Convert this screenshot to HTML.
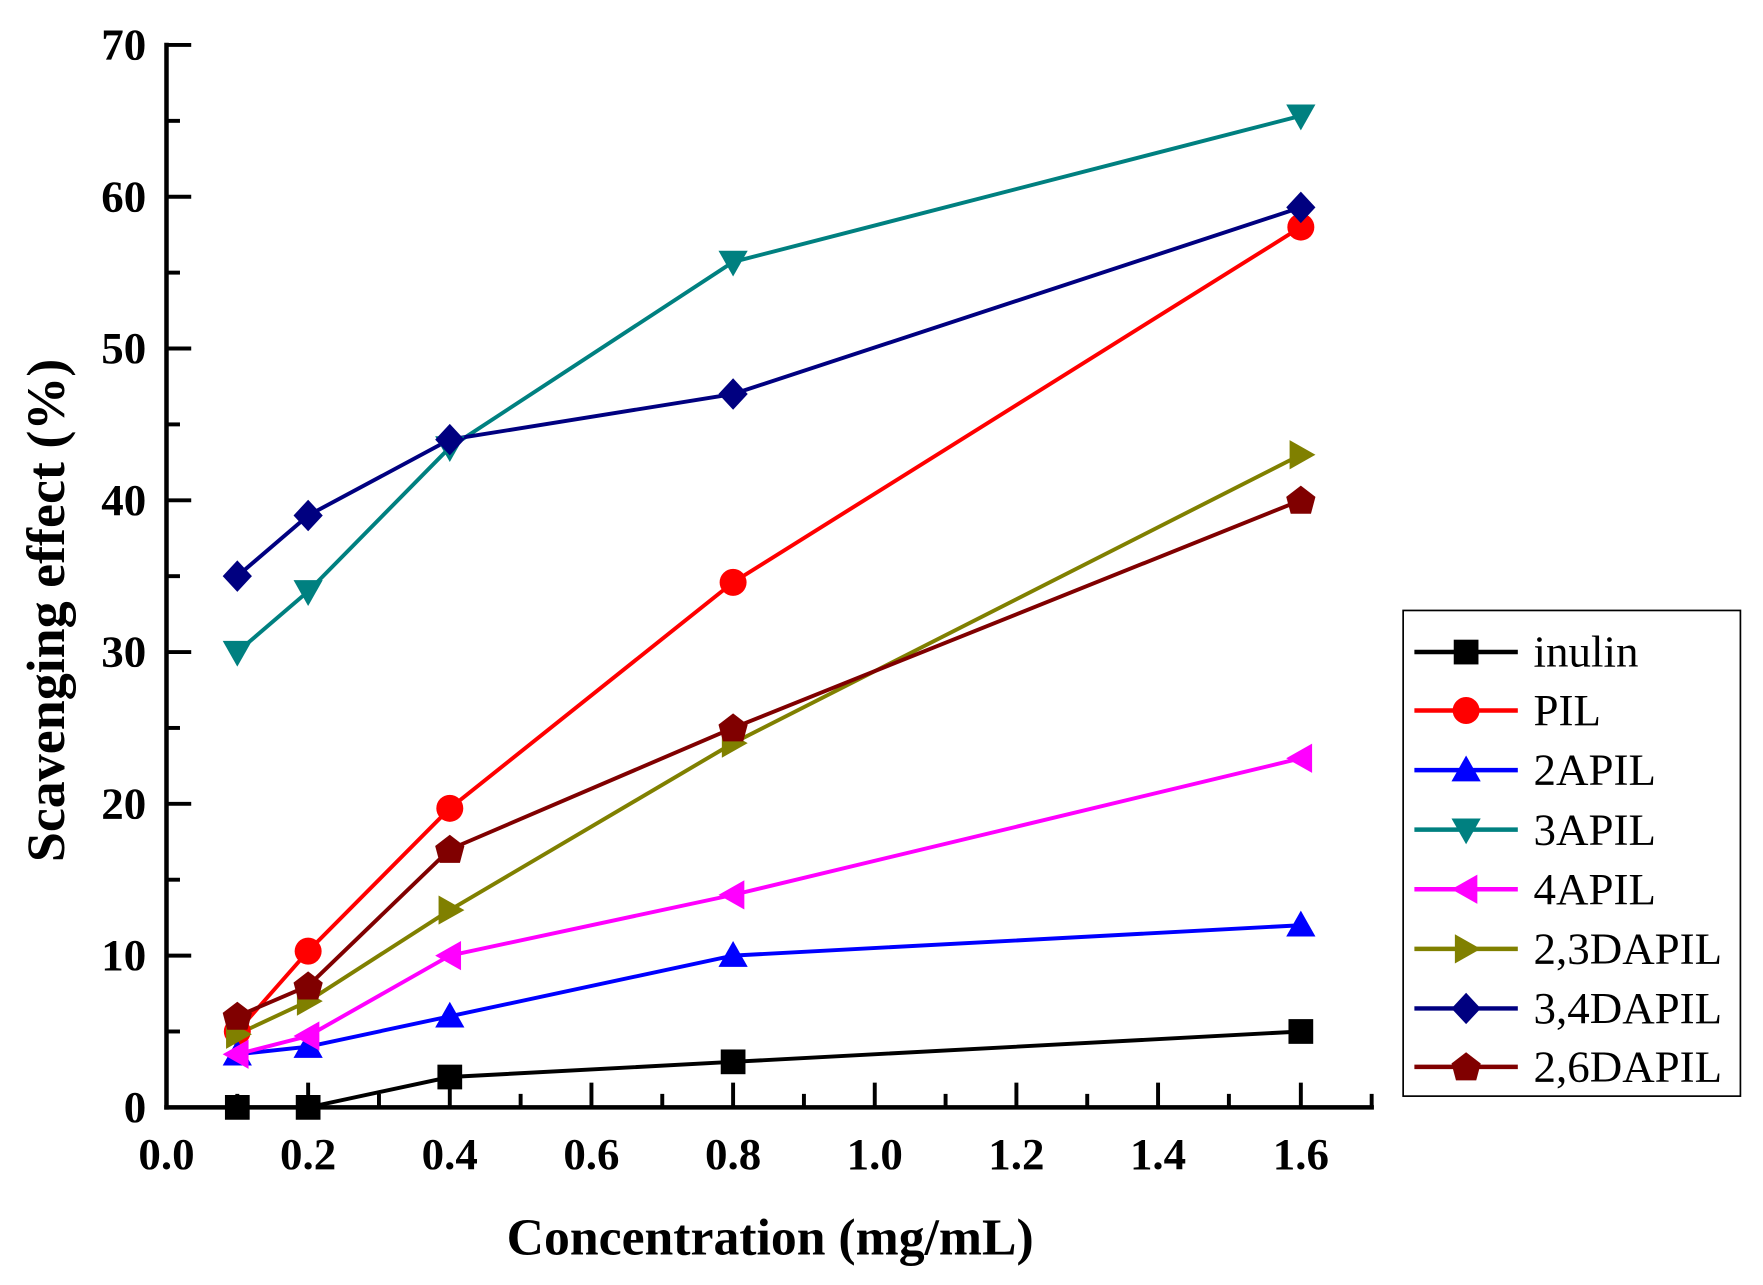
<!DOCTYPE html>
<html><head><style>html,body{margin:0;padding:0;background:#fff}svg{display:block}</style></head>
<body>
<svg width="1763" height="1285" viewBox="0 0 1568 1143" xmlns="http://www.w3.org/2000/svg" font-family="Liberation Serif, serif">
<defs>
<g id="sq"><rect x="-11" y="-11" width="22" height="22"/></g>
<g id="ci"><circle r="12"/></g>
<g id="tu"><polygon points="0,-13 13,10 -13,10"/></g>
<g id="td"><polygon points="0,13 13,-10 -13,-10"/></g>
<g id="tl"><polygon points="-13,0 10,-13 10,13"/></g>
<g id="tr"><polygon points="13,0 -10,-13 -10,13"/></g>
<g id="di"><polygon points="0,-14 13,0 0,14 -13,0"/></g>
<g id="pe"><polygon points="0,-13 13,-3 9,12 -9,12 -13,-3"/></g>
</defs>
<g stroke="#000" stroke-width="4" fill="none" stroke-linecap="square">
<line x1="148" y1="40" x2="148" y2="985"/>
<line x1="148" y1="985" x2="1220" y2="985"/>
</g>
<g stroke="#000" stroke-width="3.5">
<line x1="148" y1="40" x2="170" y2="40"/><line x1="148" y1="107.5" x2="160" y2="107.5"/>
<line x1="148" y1="175" x2="170" y2="175"/><line x1="148" y1="242.5" x2="160" y2="242.5"/>
<line x1="148" y1="310" x2="170" y2="310"/><line x1="148" y1="377.5" x2="160" y2="377.5"/>
<line x1="148" y1="445" x2="170" y2="445"/><line x1="148" y1="512.5" x2="160" y2="512.5"/>
<line x1="148" y1="580" x2="170" y2="580"/><line x1="148" y1="647.5" x2="160" y2="647.5"/>
<line x1="148" y1="715" x2="170" y2="715"/><line x1="148" y1="782.5" x2="160" y2="782.5"/>
<line x1="148" y1="850" x2="170" y2="850"/><line x1="148" y1="917.5" x2="160" y2="917.5"/>
<line x1="211" y1="985" x2="211" y2="973"/><line x1="274" y1="985" x2="274" y2="963"/>
<line x1="337" y1="985" x2="337" y2="973"/><line x1="400" y1="985" x2="400" y2="963"/>
<line x1="463" y1="985" x2="463" y2="973"/><line x1="526" y1="985" x2="526" y2="963"/>
<line x1="589" y1="985" x2="589" y2="973"/><line x1="652" y1="985" x2="652" y2="963"/>
<line x1="715" y1="985" x2="715" y2="973"/><line x1="778" y1="985" x2="778" y2="963"/>
<line x1="841" y1="985" x2="841" y2="973"/><line x1="904" y1="985" x2="904" y2="963"/>
<line x1="967" y1="985" x2="967" y2="973"/><line x1="1030" y1="985" x2="1030" y2="963"/>
<line x1="1093" y1="985" x2="1093" y2="973"/><line x1="1157" y1="985" x2="1157" y2="963"/>
<line x1="1220" y1="985" x2="1220" y2="973"/>
</g>
<g font-size="40" font-weight="bold" text-anchor="end">
<text x="130" y="53">70</text><text x="130" y="188">60</text><text x="130" y="323">50</text>
<text x="130" y="458">40</text><text x="130" y="593">30</text><text x="130" y="728">20</text>
<text x="130" y="863">10</text><text x="130" y="998">0</text>
</g>
<g font-size="40" font-weight="bold" text-anchor="middle">
<text x="148" y="1040">0.0</text><text x="274" y="1040">0.2</text><text x="400" y="1040">0.4</text>
<text x="526" y="1040">0.6</text><text x="652" y="1040">0.8</text><text x="778" y="1040">1.0</text>
<text x="904" y="1040">1.2</text><text x="1030" y="1040">1.4</text><text x="1157" y="1040">1.6</text>
</g>
<text x="685" y="1116" font-size="46" font-weight="bold" text-anchor="middle">Concentration (mg/mL)</text>
<text transform="translate(57,543) rotate(-90)" font-size="48" font-weight="bold" text-anchor="middle">Scavenging effect (%)</text>
<g fill="none" stroke-width="3.5">
<polyline stroke="#000" points="211,985 274,985 400,958 652,944.5 1157,917.5"/>
<polyline stroke="#f00" points="211,917.5 274,846 400,719 652,518 1157,202"/>
<polyline stroke="#00f" points="211,937.75 274,931 400,904 652,850 1157,823"/>
<polyline stroke="#008080" points="211,580 274,526 400,398 652,233 1157,103"/>
<polyline stroke="#f0f" points="211,937.75 274,921.5 400,850 652,796 1157,674.5"/>
<polyline stroke="#808000" points="211,920 274,890.5 400,809.5 652,661 1157,404.5"/>
<polyline stroke="#000080" points="211,512.5 274,458.5 400,391 652,350.5 1157,184.5"/>
<polyline stroke="#800000" points="211,904 274,877 400,755.5 652,647.5 1157,445"/>
</g>
<g fill="#000"><use href="#sq" x="211" y="985"/><use href="#sq" x="274" y="985"/><use href="#sq" x="400" y="958"/><use href="#sq" x="652" y="944.5"/><use href="#sq" x="1157" y="917.5"/></g>
<g fill="#f00"><use href="#ci" x="211" y="917.5"/><use href="#ci" x="274" y="846"/><use href="#ci" x="400" y="719"/><use href="#ci" x="652" y="518"/><use href="#ci" x="1157" y="202"/></g>
<g fill="#00f"><use href="#tu" x="211" y="937.75"/><use href="#tu" x="274" y="931"/><use href="#tu" x="400" y="904"/><use href="#tu" x="652" y="850"/><use href="#tu" x="1157" y="823"/></g>
<g fill="#008080"><use href="#td" x="211" y="580"/><use href="#td" x="274" y="526"/><use href="#td" x="400" y="398"/><use href="#td" x="652" y="233"/><use href="#td" x="1157" y="103"/></g>
<g fill="#f0f"><use href="#tl" x="211" y="937.75"/><use href="#tl" x="274" y="921.5"/><use href="#tl" x="400" y="850"/><use href="#tl" x="652" y="796"/><use href="#tl" x="1157" y="674.5"/></g>
<g fill="#808000"><use href="#tr" x="211" y="920"/><use href="#tr" x="274" y="890.5"/><use href="#tr" x="400" y="809.5"/><use href="#tr" x="652" y="661"/><use href="#tr" x="1157" y="404.5"/></g>
<g fill="#000080"><use href="#di" x="211" y="512.5"/><use href="#di" x="274" y="458.5"/><use href="#di" x="400" y="391"/><use href="#di" x="652" y="350.5"/><use href="#di" x="1157" y="184.5"/></g>
<g fill="#800000"><use href="#pe" x="211" y="904"/><use href="#pe" x="274" y="877"/><use href="#pe" x="400" y="755.5"/><use href="#pe" x="652" y="647.5"/><use href="#pe" x="1157" y="445"/></g>
<rect x="1248" y="543" width="300" height="432" fill="#fff" stroke="#000" stroke-width="1.5"/>
<g stroke-width="4">
<line x1="1258" x2="1350" y1="580" y2="580" stroke="#000"/>
<line x1="1258" x2="1350" y1="632" y2="632" stroke="#f00"/>
<line x1="1258" x2="1350" y1="685" y2="685" stroke="#00f"/>
<line x1="1258" x2="1350" y1="738" y2="738" stroke="#008080"/>
<line x1="1258" x2="1350" y1="791" y2="791" stroke="#f0f"/>
<line x1="1258" x2="1350" y1="844" y2="844" stroke="#808000"/>
<line x1="1258" x2="1350" y1="897" y2="897" stroke="#000080"/>
<line x1="1258" x2="1350" y1="949" y2="949" stroke="#800000"/>
</g>
<use href="#sq" x="1304" y="580" fill="#000"/>
<use href="#ci" x="1304" y="632" fill="#f00"/>
<use href="#tu" x="1304" y="685" fill="#00f"/>
<use href="#td" x="1304" y="738" fill="#008080"/>
<use href="#tl" x="1304" y="791" fill="#f0f"/>
<use href="#tr" x="1304" y="844" fill="#808000"/>
<use href="#di" x="1304" y="897" fill="#000080"/>
<use href="#pe" x="1304" y="949" fill="#800000"/>
<g font-size="40">
<text x="1364" y="593">inulin</text><text x="1364" y="645">PIL</text><text x="1364" y="698">2APIL</text>
<text x="1364" y="751">3APIL</text><text x="1364" y="804">4APIL</text><text x="1364" y="857">2,3DAPIL</text>
<text x="1364" y="910">3,4DAPIL</text><text x="1364" y="962">2,6DAPIL</text>
</g>
</svg>
</body></html>
